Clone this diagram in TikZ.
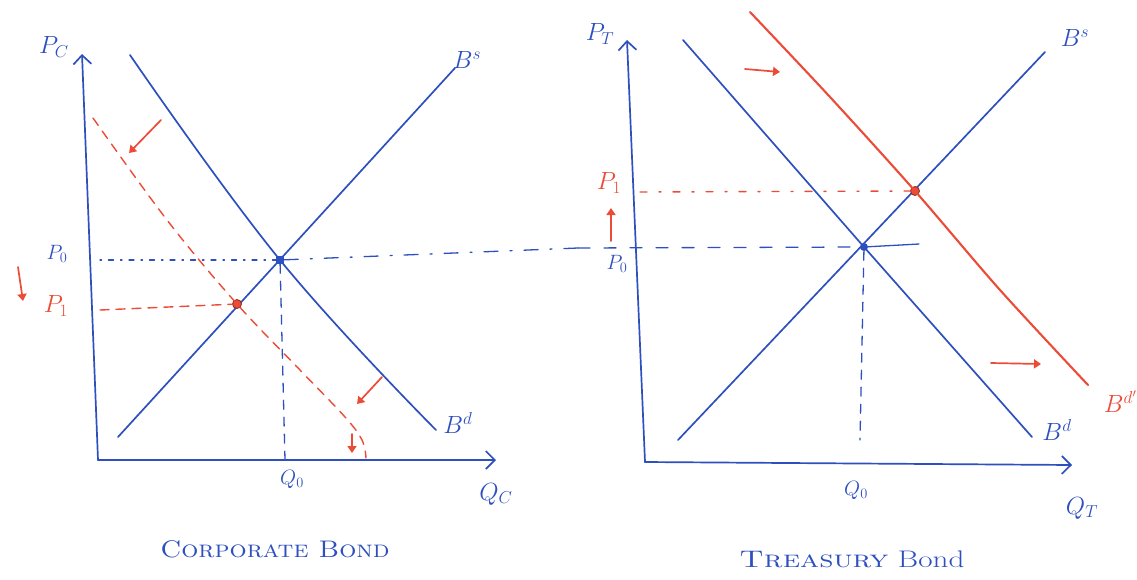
\documentclass[tikz,border=0pt]{standalone}
\usetikzlibrary{arrows.meta}
\definecolor{pen}{RGB}{45,80,190}
\definecolor{ink}{RGB}{235,75,55}
\begin{document}
\begin{tikzpicture}[x=1pt,y=-1pt,line cap=round,line join=round,
  bl/.style={draw=pen,line width=1.7pt},
  rd/.style={draw=ink,line width=1.7pt},
  axis/.style={bl,-{Straight Barb[length=9pt,width=18pt,line width=1.7pt]}},
  rarrow/.style={rd,-{Triangle[length=7pt,width=9pt]}},
  lbl/.style={text=pen,font=\fontsize{25}{27}\selectfont,inner sep=0pt},
  rlbl/.style={text=ink,font=\fontsize{25}{27}\selectfont,inner sep=0pt},
  slbl/.style={text=pen,font=\fontsize{20}{22}\selectfont,inner sep=0pt},
  ttl/.style={text=pen,font=\fontsize{24}{26}\selectfont,inner sep=0pt},
  bdash/.style={bl,line width=1.3pt,dash pattern=on 9pt off 8pt},
  bdot/.style={bl,line width=1.3pt,dash pattern=on 1.5pt off 7pt on 5pt off 7pt},
  rdash/.style={rd,line width=1.4pt,dash pattern=on 9pt off 7pt},
  eqb/.style={fill=pen,minimum size=8pt,inner sep=0pt},
  eqr/.style={circle,fill=ink,draw=ink!60!black,line width=0.8pt,minimum size=9pt,inner sep=0pt}]
\useasboundingbox (0,0) rectangle (1137,579);
% ---------- left graph ----------
\coordinate (LO) at (98,460);
\coordinate (LY) at (82,54);
\coordinate (LX) at (496,460);
\draw[axis] (LO) -- (LY);
\draw[axis] (LO) -- (LX);
\coordinate (LBd1) at (130,55);
\coordinate (LBd3) at (436,430);
\coordinate (LBs1) at (118,437);
\coordinate (LBs2) at (455,68);
\node[eqb] (E0) at (280,260) {};
\draw[bl] plot[smooth,tension=0.7] coordinates {(LBd1) (E0.center) (LBd3)};
\draw[bl] (LBs1) -- (LBs2);
% red shifted demand
\node[eqr] (E0r) at (237,304) {};
\coordinate (Q0Lb) at (285,460);
\draw[rdash] plot[smooth,tension=0.6] coordinates {(93,118) (167,220) (E0r.center) (300,370) (345,417) (362,440) (366,458)};
\coordinate (LP0) at (100,260);
\coordinate (LP1) at (100,310);
\draw[bdot] (LP0) -- (E0);
\draw[bdash] (E0) -- (Q0Lb);
\draw[rdash] (LP1) -- (E0r);
\coordinate (ra1s) at (161,120);
\coordinate (ra1e) at (129,153);
\draw[rarrow] (ra1s) -- (ra1e);
\coordinate (ra2s) at (382,377);
\coordinate (ra2e) at (357,404);
\draw[rarrow] (ra2s) -- (ra2e);
\coordinate (ra3s) at (352,434);
\coordinate (ra3e) at (352,453);
\draw[rarrow] (ra3s) -- (ra3e);
\coordinate (ra4s) at (18,267);
\coordinate (ra4e) at (23,301);
\draw[rarrow] (ra4s) -- (ra4e);
\node[lbl] (PC) at (54,47) {$P_C$};
\node[slbl] (P0L) at (57,254) {$P_0$};
\node[rlbl] (P1L) at (56,306) {$P_1$};
\node[slbl] (Q0L) at (292,479) {$Q_0$};
\node[lbl] (QC) at (496,494) {$Q_C$};
\node[lbl] (BdL) at (458,423) {$B^d$};
\node[lbl] (BsL) at (467,60) {$B^s$};
\node[ttl] (T1) at (275,549) {\scalebox{1.12}[1]{\textsc{Corporate Bond}}};
% ---------- right graph ----------
\coordinate (RO) at (645,462);
\coordinate (RY) at (627,40);
\coordinate (RX) at (1072,465);
\draw[axis] (RO) -- (RY);
\draw[axis] (RO) -- (RX);
\node[circle,fill=pen,minimum size=8pt,inner sep=0pt] (E1) at (864,247) {};
\draw[bl] (683,40) -- (E1.center) -- (1032,437);
\draw[bl] (678,440) -- (1045,52);
\node[eqr] (E2) at (915,191) {};
\draw[rd,line width=2.1pt] plot[smooth,tension=0.5] coordinates {(750,12) (830,97) (E2.center) (1000,290) (1088,385)};
\coordinate (RP0) at (578,248);
\coordinate (RP1) at (640,192);
\draw[bdash,dash pattern=on 14pt off 12pt on 2pt off 12pt] (E0) -- (RP0);
\draw[bdash,dash pattern=on 12pt off 14pt] (RP0) -- (E1);
\coordinate (E1t) at (919,244);
\draw[bl,line width=1.3pt] (E1) -- (E1t);
\coordinate (Q0Rb) at (860,440);
\draw[bdash] (E1) -- (Q0Rb);
\draw[rdash,dash pattern=on 7pt off 12pt on 2pt off 12pt] (RP1) -- (E2);
\coordinate (ra5s) at (745,69);
\coordinate (ra5e) at (780,72);
\draw[rarrow] (ra5s) -- (ra5e);
\coordinate (ra6s) at (991,363);
\coordinate (ra6e) at (1041,364);
\draw[rarrow] (ra6s) -- (ra6e);
\coordinate (ra7s) at (611,241);
\coordinate (ra7e) at (611,208);
\draw[rarrow] (ra7s) -- (ra7e);
\node[lbl] (PT) at (600,34) {$P_T$};
\node[rlbl] (P1R) at (609,183) {$P_1$};
\node[slbl] (P0R) at (617,264) {$P_0$};
\node[slbl] (Q0R) at (856,490) {$Q_0$};
\node[lbl] (QT) at (1082,508) {$Q_T$};
\node[lbl] (BdR) at (1057,430) {$B^d$};
\node[lbl] (BsR) at (1075,38) {$B^s$};
\node[rlbl,anchor=east] (BdpR) at (1137,402) {$B^{d'}$};
\node[ttl] (T2) at (852,559) {\scalebox{1.3}[1]{\textsc{Treasury} Bond}};
\end{tikzpicture}
\end{document}
